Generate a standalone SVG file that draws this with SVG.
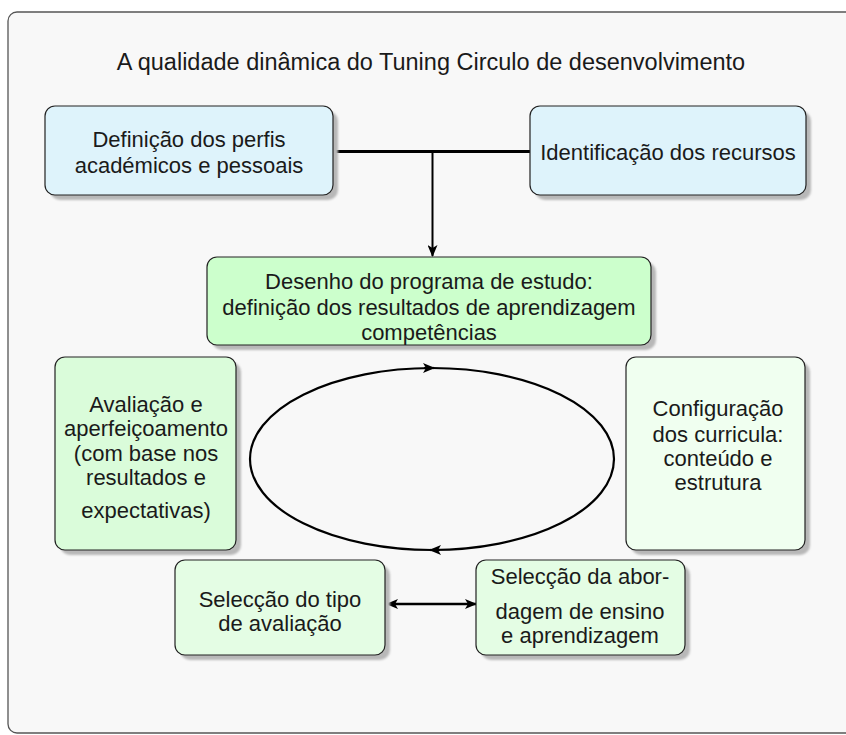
<svg xmlns="http://www.w3.org/2000/svg" width="846" height="735" viewBox="0 0 846 735">
<defs>
<style>
.t{font-family:"Liberation Sans",Arial,sans-serif;font-size:22px;fill:#1a1a1a;text-anchor:middle}
.box{stroke:#222;stroke-width:1.2}
.sh{fill:#b8b8b8;filter:url(#blur)}
.c{fill:none;stroke:#000}
</style>
<filter id="blur" x="-5%" y="-5%" width="110%" height="110%"><feGaussianBlur stdDeviation="1"/></filter>
<marker id="ah" viewBox="0 0 12 10" refX="11" refY="5" markerWidth="12" markerHeight="10" markerUnits="userSpaceOnUse" orient="auto-start-reverse">
<path d="M0,0 L12,5 L0,10 L3,5 Z" fill="#000"/>
</marker>
</defs>
<rect x="8" y="12" width="870" height="721" rx="9" fill="#f8f8f8" stroke="#555" stroke-width="1.3"/>
<text class="t" x="431" y="70" style="font-size:23.5px">A qualidade dinâmica do Tuning Circulo de desenvolvimento</text>
<g id="connectors">
<line class="c" x1="333" y1="151.5" x2="530" y2="151.5" stroke-width="3"/>
<line class="c" x1="432.5" y1="151.5" x2="432.5" y2="256" stroke-width="2" marker-end="url(#ah)"/>
<ellipse class="c" cx="432" cy="459" rx="182" ry="91" stroke-width="2.2"/>
<path d="M424,368 L434,368" class="c" stroke-width="2.2" marker-end="url(#ah)"/>
<path d="M440,550 L430,550" class="c" stroke-width="2.2" marker-end="url(#ah)"/>
<line class="c" x1="387" y1="604" x2="476" y2="604" stroke-width="2.5" marker-start="url(#ah)" marker-end="url(#ah)"/>
</g>
<g id="n1">
<rect class="sh" x="50" y="111" width="288" height="89" rx="10"/>
<rect class="box" x="45" y="106" width="288" height="89" rx="10" fill="#def3fb"/>
<text class="t" x="189" y="147">Definição dos perfis</text>
<text class="t" x="189" y="173">académicos e pessoais</text>
</g>
<g id="n2">
<rect class="sh" x="535" y="111" width="276" height="89" rx="10"/>
<rect class="box" x="530" y="106" width="276" height="89" rx="10" fill="#def3fb"/>
<text class="t" x="668" y="160">Identificação dos recursos</text>
</g>
<g id="n3">
<rect class="sh" x="212" y="262" width="444" height="88" rx="10"/>
<rect class="box" x="207" y="257" width="444" height="88" rx="10" fill="#ccffcc"/>
<text class="t" x="429" y="289">Desenho do programa de estudo:</text>
<text class="t" x="429" y="315">definição dos resultados de aprendizagem</text>
<text class="t" x="429" y="340">competências</text>
</g>
<g id="n4">
<rect class="sh" x="60" y="362" width="181" height="193" rx="10"/>
<rect class="box" x="55" y="357" width="181" height="193" rx="10" fill="#dafcda"/>
<text class="t" x="146" y="412">Avaliação e</text>
<text class="t" x="146" y="436">aperfeiçoamento</text>
<text class="t" x="146" y="461">(com base nos</text>
<text class="t" x="146" y="485">resultados e</text>
<text class="t" x="146" y="518">expectativas)</text>
</g>
<g id="n5">
<rect class="sh" x="631" y="362" width="179" height="193" rx="10"/>
<rect class="box" x="626" y="357" width="179" height="193" rx="10" fill="#f0fff0"/>
<text class="t" x="718" y="416">Configuração</text>
<text class="t" x="718" y="442">dos curricula:</text>
<text class="t" x="718" y="466">conteúdo e</text>
<text class="t" x="718" y="490">estrutura</text>
</g>
<g id="n6">
<rect class="sh" x="180" y="565" width="210" height="95" rx="10"/>
<rect class="box" x="175" y="560" width="210" height="95" rx="10" fill="#e4fde4"/>
<text class="t" x="280" y="607">Selecção do tipo</text>
<text class="t" x="280" y="631">de avaliação</text>
</g>
<g id="n7">
<rect class="sh" x="481" y="565" width="209" height="95" rx="10"/>
<rect class="box" x="476" y="560" width="209" height="95" rx="10" fill="#e4fde4"/>
<text class="t" x="580" y="584">Selecção da abor-</text>
<text class="t" x="580" y="619">dagem de ensino</text>
<text class="t" x="580" y="643">e aprendizagem</text>
</g>
</svg>
